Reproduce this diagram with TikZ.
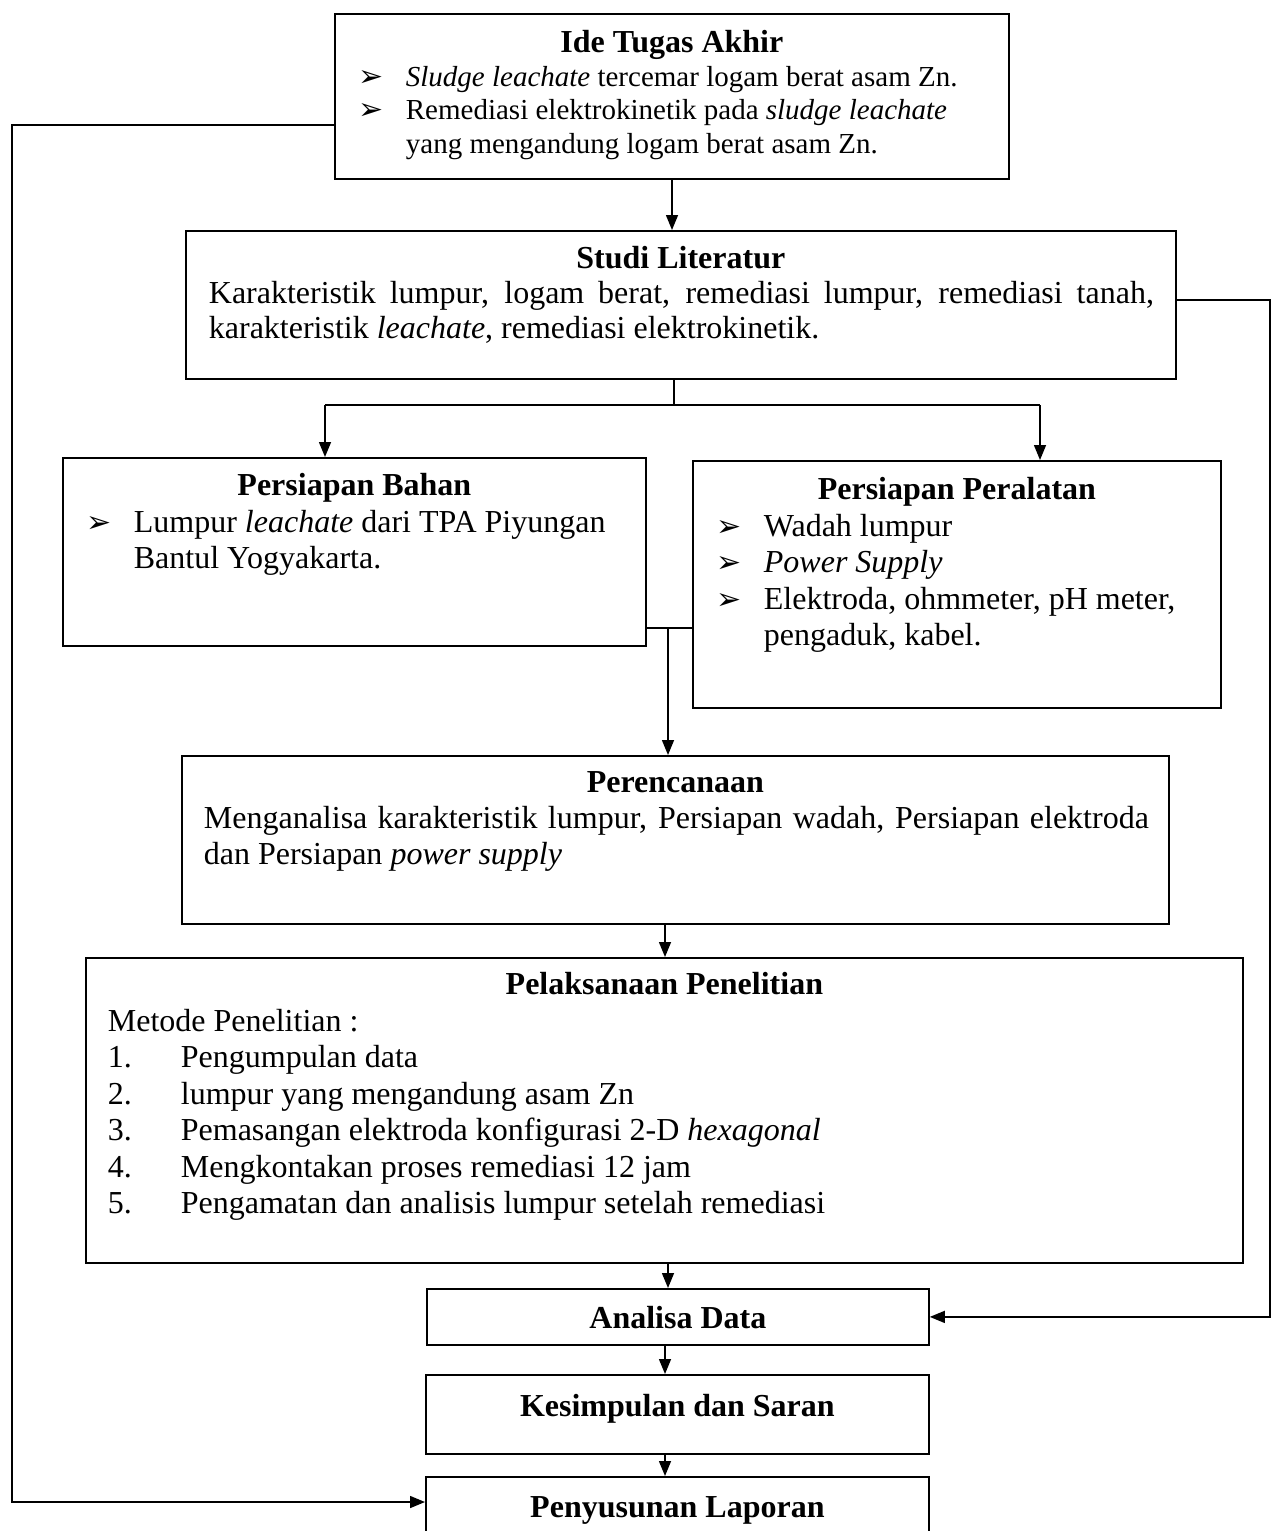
\documentclass[tikz,border=0pt]{standalone}
\usepackage{fontspec}
\setmainfont{Liberation Serif}
\newfontfamily\symfont{DejaVu Sans}
\usetikzlibrary{arrows.meta,positioning}
\tikzset{
  box/.style={draw,line width=1.8pt,inner sep=0pt,anchor=north west},
  link/.style={line width=1.5pt},
  flow/.style={link,-{Triangle[length=15pt,width=12pt]}}
}
% box contents
\newcommand{\boxin}[3]{\parbox[b][#2][t]{#1}{#3}}
\newcommand{\hd}[2]{\rule{0pt}{#1}\makebox[\linewidth]{\fontsize{32}{32}\selectfont\bfseries #2}\par}
\newcommand{\blt}{{\symfont\fontsize{30}{30}\selectfont\char"27A2}}
\newcommand{\itm}[3]{\hangindent=\dimexpr#1+#2\relax\hangafter=1\noindent\hspace*{#1}\makebox[#2][l]{#3}}

\begin{document}
\begin{tikzpicture}[x=1pt,y=-1pt]
\path[use as bounding box] (0,0) rectangle (1274,1531);
\clip (0,0) rectangle (1274,1531);

\node[box] (ide) at (334,13) {\boxin{674pt}{165pt}{\fontsize{29}{33.5}\selectfont
  \hd{39pt}{Ide Tugas Akhir}
  \itm{24pt}{47pt}{\blt}\textit{Sludge leachate} tercemar logam berat asam Zn.\par
  \itm{24pt}{47pt}{\blt}Remediasi elektrokinetik pada \textit{sludge leachate}\\
  yang mengandung logam berat asam Zn.\par}};

\node[box] (studi) at (185,230) {\boxin{990pt}{148pt}{\fontsize{32}{35}\selectfont
  \hd{38pt}{Studi Literatur}
  \leftskip=23pt \rightskip=22pt
  Karakteristik lumpur, logam berat, remediasi lumpur, remediasi tanah,\linebreak
  karakteristik \textit{leachate}, remediasi elektrokinetik.\par}};

\node[box] (bahan) at (62,457) {\boxin{583pt}{188pt}{\fontsize{32}{36.5}\selectfont
  \hd{38pt}{Persiapan Bahan}
  \itm{24pt}{47pt}{\blt}Lumpur \textit{leachate} dari TPA Piyungan\\
  Bantul Yogyakarta.\par}};

\node[box] (alat) at (692,460) {\boxin{528pt}{247pt}{\fontsize{32}{36.5}\selectfont
  \hd{39pt}{Persiapan Peralatan}
  \itm{24pt}{47pt}{\blt}Wadah lumpur\par
  \itm{24pt}{47pt}{\blt}\textit{Power Supply}\par
  \itm{24pt}{47pt}{\blt}Elektroda, ohmmeter, pH meter,\\
  pengaduk, kabel.\par}};

\node[box] (rencana) at (181,755) {\boxin{987pt}{168pt}{\fontsize{32}{36}\selectfont
  \hd{37pt}{Perencanaan}
  \leftskip=22pt \rightskip=20pt
  Menganalisa karakteristik lumpur, Persiapan wadah, Persiapan elektroda\linebreak
  dan Persiapan \textit{power supply}\par}};

\node[box] (laksana) at (85,957) {\boxin{1157pt}{305pt}{\fontsize{32}{36.5}\selectfont
  \hd{37pt}{Pelaksanaan Penelitian}
  \noindent\hspace*{22pt}Metode Penelitian :\par
  \itm{22pt}{73pt}{1.}Pengumpulan data\par
  \itm{22pt}{73pt}{2.}lumpur yang mengandung asam Zn\par
  \itm{22pt}{73pt}{3.}Pemasangan elektroda konfigurasi 2-D \textit{hexagonal}\par
  \itm{22pt}{73pt}{4.}Mengkontakan proses remediasi 12 jam\par
  \itm{22pt}{73pt}{5.}Pengamatan dan analisis lumpur setelah remediasi\par}};

\node[box] (analisa) at (426,1288) {\boxin{502pt}{56pt}{\hd{40pt}{Analisa Data}}};
\node[box] (simpul) at (425,1374) {\boxin{503pt}{79pt}{\hd{42pt}{Kesimpulan dan Saran}}};
\node[box] (lapor) at (425,1476) {\boxin{503pt}{85pt}{\hd{41pt}{Penyusunan Laporan}}};

% main flow
\coordinate (ax) at (665,0);
\draw[flow] (ide.south -| 672,0) -- (studi.north -| 672,0);
\coordinate (sp) at (674,405);
\coordinate (spl) at (325,405);
\coordinate (spr) at (1040,405);
\draw[link] (sp |- studi.south) -- (sp);
\draw[link] (spl) -- (spr);
\draw[flow] (spl) -- (spl |- bahan.north);
\draw[flow] (spr) -- (spr |- alat.north);
\coordinate (jn) at (668,628);
\draw[link] (bahan.east |- jn) -- (alat.west |- jn);
\draw[flow] (jn) -- (jn |- rencana.north);
\draw[flow] (rencana.south -| ax) -- (laksana.north -| ax);
\draw[flow] (laksana.south -| 668,0) -- (analisa.north -| 668,0);
\draw[flow] (analisa.south -| ax) -- (simpul.north -| ax);
\draw[flow] (simpul.south -| ax) -- (lapor.north -| ax);

% side loops
\coordinate (l1) at (12,125);
\coordinate (l2) at (12,1502);
\draw[flow] (l1 -| ide.west) -- (l1) -- (l2) -- (l2 -| lapor.west);
\coordinate (r1) at (1270,300);
\draw[flow] (r1 -| studi.east) -- (r1) |- (analisa.east);
\end{tikzpicture}
\end{document}
